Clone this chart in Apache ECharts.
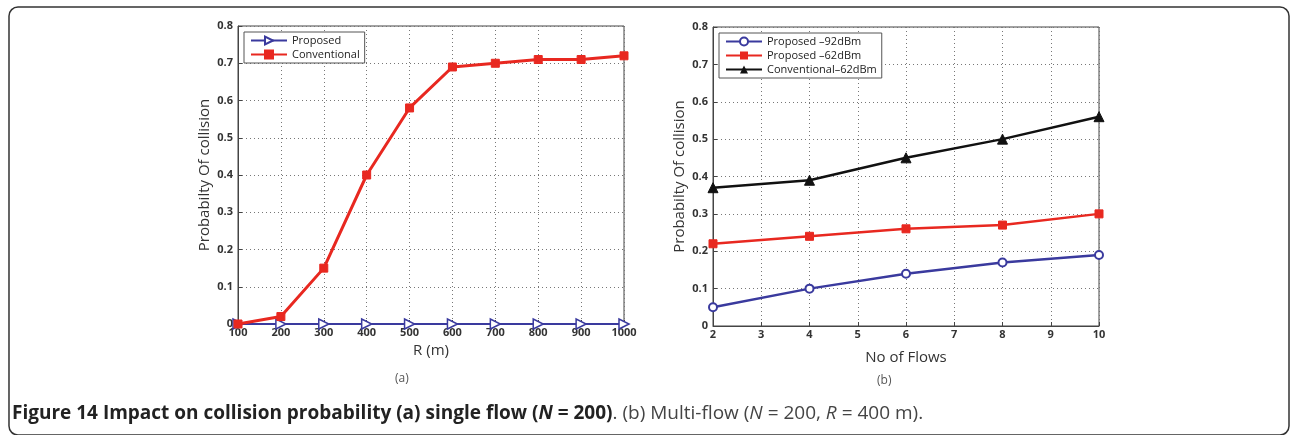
<!DOCTYPE html>
<html>
<head>
<meta charset="utf-8">
<script src="https://cdn.jsdelivr.net/npm/echarts@6/dist/echarts.min.js"></script>
<style>
html,body{margin:0;padding:0;background:#fff;}
#chart{width:1292px;height:435px;}
</style>
</head>
<body>
<div id="chart"></div>
<script>
// ---- data ----
var rValues = [100, 200, 300, 400, 500, 600, 700, 800, 900, 1000];
var proposedA = [0, 0, 0, 0, 0, 0, 0, 0, 0, 0];
var conventionalA = [0, 0.02, 0.15, 0.40, 0.58, 0.69, 0.70, 0.71, 0.71, 0.72];

var flows = [2, 4, 6, 8, 10];
var proposed92 = [0.05, 0.10, 0.14, 0.17, 0.19];
var proposed62 = [0.22, 0.24, 0.26, 0.27, 0.30];
var conventional62 = [0.37, 0.39, 0.45, 0.50, 0.56];

var seriesNamesA = ['Proposed', 'Conventional'];
var seriesNamesB = ['Proposed \u201392dBm', 'Proposed \u201362dBm', 'Conventional\u201362dBm'];

function pairs(xs, ys) { return xs.map(function (x, i) { return [x, ys[i]]; }); }

var BLUE = '#3a3a9e', RED = '#e82820', BLACK = '#111111';
var FONT = '"Open Sans", "DejaVu Sans", sans-serif';

var chart = echarts.init(document.getElementById('chart'), null, {renderer: 'canvas'});

function yAxis(gi) {
  return {
    type: 'value', gridIndex: gi, min: 0, max: 0.8, interval: 0.1,
    name: 'Probabilty Of collision', nameLocation: 'middle', nameGap: 26,
    nameTextStyle: {fontFamily: FONT, fontSize: 15, color: '#333'},
    axisLine: {show: true, lineStyle: {color: '#444', width: 1}},
    axisTick: {show: true, inside: true, length: 4, lineStyle: {color: '#444'}},
    axisLabel: {fontFamily: FONT, fontSize: 11, color: '#333', fontWeight: 'bold', margin: 5,
      formatter: function (v) { return String(Math.round(v * 10) / 10); }},
    splitLine: {show: true, lineStyle: {color: '#777', type: [1, 3], width: 1}}
  };
}
function xAxis(gi, min, max, interval, name, nameSize, nameGap) {
  return {
    type: 'value', gridIndex: gi, min: min, max: max, interval: interval,
    name: name, nameLocation: 'middle', nameGap: nameGap,
    nameTextStyle: {fontFamily: FONT, fontSize: nameSize, color: '#333'},
    axisLine: {show: true, onZero: false, lineStyle: {color: '#444', width: 1}},
    axisTick: {show: true, inside: true, length: 4, lineStyle: {color: '#444'}},
    axisLabel: {fontFamily: FONT, fontSize: 11, color: '#333', fontWeight: 'bold', margin: 3,
      formatter: function (v) { return String(v); }},
    splitLine: {show: true, lineStyle: {color: '#777', type: [1, 3], width: 1}}
  };
}

var option = {
  backgroundColor: '#fff',
  animation: false,
  grid: [
    {left: 238, top: 26, width: 386, height: 298, show: true, borderColor: '#444', borderWidth: 1, containLabel: false},
    {left: 713, top: 27, width: 386, height: 299, show: true, borderColor: '#444', borderWidth: 1, containLabel: false}
  ],
  xAxis: [
    xAxis(0, 100, 1000, 100, 'R (m)', 15, 19),
    xAxis(1, 2, 10, 1, 'No of Flows', 15, 24)
  ],
  yAxis: [yAxis(0), yAxis(1)],
  legend: [
    {
      data: seriesNamesA, orient: 'vertical', left: 244, top: 32,
      borderColor: '#555', borderWidth: 1, padding: [3, 5, 3, 6], itemGap: 3,
      itemWidth: 36, itemHeight: 10, backgroundColor: '#fff',
      textStyle: {fontFamily: FONT, fontSize: 11, color: '#222'}
    },
    {
      data: seriesNamesB, orient: 'vertical', left: 719, top: 33,
      borderColor: '#555', borderWidth: 1, padding: [3, 5, 3, 6], itemGap: 3,
      itemWidth: 36, itemHeight: 10, backgroundColor: '#fff',
      textStyle: {fontFamily: FONT, fontSize: 11, color: '#222'}
    }
  ],
  series: [
    {
      name: seriesNamesA[0], type: 'line', xAxisIndex: 0, yAxisIndex: 0,
      data: pairs(rValues, proposedA), symbol: 'triangle', symbolRotate: -90, symbolSize: 10,
      lineStyle: {color: BLUE, width: 2}, itemStyle: {color: '#fff', borderColor: BLUE, borderWidth: 1.5},
      z: 3
    },
    {
      name: seriesNamesA[1], type: 'line', xAxisIndex: 0, yAxisIndex: 0,
      data: pairs(rValues, conventionalA), symbol: 'rect', symbolSize: 8,
      lineStyle: {color: RED, width: 3}, itemStyle: {color: RED, borderColor: RED, borderWidth: 1},
      z: 4
    },
    {
      name: seriesNamesB[0], type: 'line', xAxisIndex: 1, yAxisIndex: 1,
      data: pairs(flows, proposed92), symbol: 'circle', symbolSize: 8,
      lineStyle: {color: BLUE, width: 2.5}, itemStyle: {color: '#fff', borderColor: BLUE, borderWidth: 2}
    },
    {
      name: seriesNamesB[1], type: 'line', xAxisIndex: 1, yAxisIndex: 1,
      data: pairs(flows, proposed62), symbol: 'rect', symbolSize: 8,
      lineStyle: {color: RED, width: 2.5}, itemStyle: {color: RED, borderColor: RED}
    },
    {
      name: seriesNamesB[2], type: 'line', xAxisIndex: 1, yAxisIndex: 1,
      data: pairs(flows, conventional62), symbol: 'triangle', symbolSize: 10,
      lineStyle: {color: BLACK, width: 2.5}, itemStyle: {color: BLACK, borderColor: BLACK}
    }
  ],
  graphic: [
    {type: 'rect', shape: {x: 9, y: 7, width: 1280, height: 428, r: 9}, style: {fill: 'none', stroke: '#333', lineWidth: 1.5}, silent: true},
    {type: 'text', left: 395, top: 373, style: {text: '(a)', font: '12px ' + FONT, fill: '#555'}},
    {type: 'text', left: 877, top: 375, style: {text: '(b)', font: '12px ' + FONT, fill: '#555'}},
    {
      type: 'text', left: 12, top: 404,
      style: {
        text: '{b|Figure 14 Impact on collision probability (a) single flow (}{bi|N}{b| = 200)}{n|. (b) Multi-flow (}{ni|N}{n| = 200, }{ni|R}{n| = 400 m).}',
        rich: {
          b: {fontFamily: FONT, fontSize: 19, fontWeight: 'bold', fill: '#222'},
          bi: {fontFamily: FONT, fontSize: 19, fontWeight: 'bold', fontStyle: 'italic', fill: '#222'},
          n: {fontFamily: FONT, fontSize: 19, fill: '#444'},
          ni: {fontFamily: FONT, fontSize: 19, fontStyle: 'italic', fill: '#444'}
        }
      }
    }
  ]
};
chart.setOption(option);
</script>
</body>
</html>
